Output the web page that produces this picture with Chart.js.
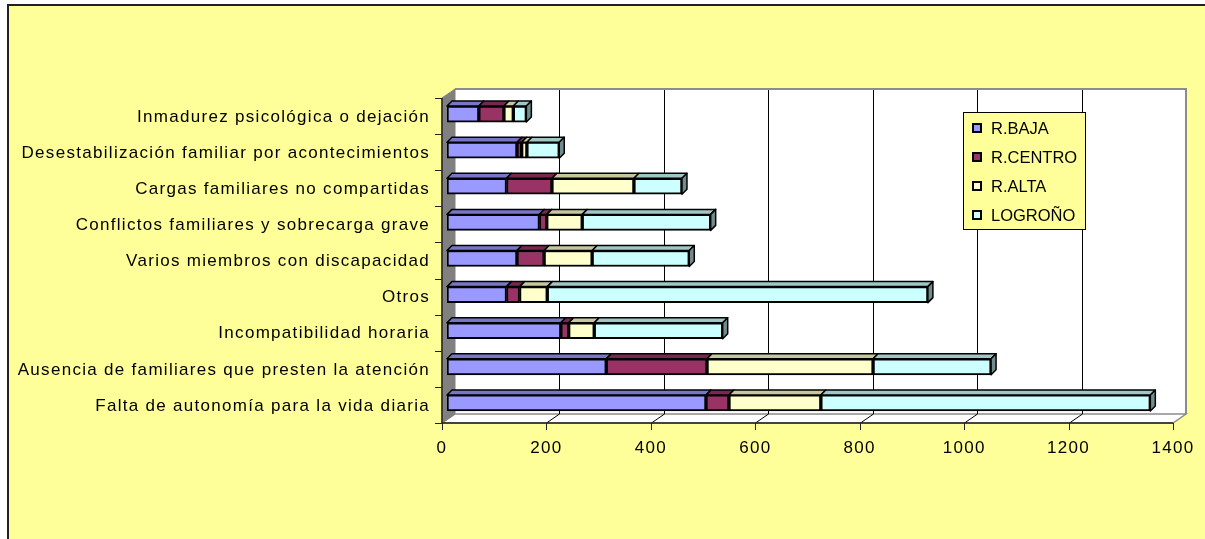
<!DOCTYPE html>
<html>
<head>
<meta charset="utf-8">
<script src="https://cdn.jsdelivr.net/npm/chart.js@4"></script>
<style>
  html, body { margin: 0; padding: 0; background: #ffffff; }
  #wrap { width: 1205px; height: 539px; }
</style>
</head>
<body>
<div id="wrap"><canvas id="myChart" width="1205" height="539"></canvas></div>
<script>
const categories = [
    'Inmadurez psicológica o dejación',
    'Desestabilización familiar por acontecimientos',
    'Cargas familiares no compartidas',
    'Conflictos familiares y sobrecarga grave',
    'Varios miembros con discapacidad',
    'Otros',
    'Incompatibilidad horaria',
    'Ausencia de familiares que presten la atención',
    'Falta de autonomía para la vida diaria'
];
const seriesNames = ['R.BAJA', 'R.CENTRO', 'R.ALTA', 'LOGROÑO'];
const rBaja   = [61, 134, 114, 177, 134, 114, 218, 305, 496];
const rCentro = [48,   9,  87,  14,  52,  25,  15, 193,  44];
const rAlta   = [18,  10, 157,  68,  92,  53,  49, 318, 176];
const logrono = [25,  62,  92, 246, 186, 729, 246, 226, 631];
const xTicks = [0, 200, 400, 600, 800, 1000, 1200, 1400];

const colors = ['#9999FF', '#993366', '#FFFFCC', '#CCFFFF'];
const FONT = '"Liberation Sans", Arial, sans-serif';

// front / back plane offsets from the bar plane
const FRONT = { dx: -5, dy: 2 };
const BACK = { dx: 8, dy: -7 };
const BAR_DX = 5, BAR_DY = 5;

function shade(hex, f) {
    const n = parseInt(hex.slice(1), 16);
    const r = Math.round(((n >> 16) & 255) * f);
    const g = Math.round(((n >> 8) & 255) * f);
    const b = Math.round((n & 255) * f);
    return `rgb(${r},${g},${b})`;
}

function poly(ctx, pts, fill, stroke, lw) {
    ctx.beginPath();
    ctx.moveTo(pts[0][0], pts[0][1]);
    for (let i = 1; i < pts.length; i++) ctx.lineTo(pts[i][0], pts[i][1]);
    ctx.closePath();
    if (fill) { ctx.fillStyle = fill; ctx.fill(); }
    if (stroke) { ctx.strokeStyle = stroke; ctx.lineWidth = lw; ctx.stroke(); }
}

const excel3d = {
    id: 'excel3d',
    beforeDraw(chart) {
        const ctx = chart.ctx;
        ctx.save();
        ctx.fillStyle = '#ffffff';
        ctx.fillRect(0, 0, chart.width, chart.height);
        ctx.fillStyle = '#FFFF99';
        ctx.fillRect(8, 5, chart.width, chart.height);
        ctx.strokeStyle = '#222';
        ctx.lineWidth = 2;
        ctx.strokeRect(8, 5, chart.width + 10, chart.height + 10);
        ctx.restore();
        // wider spacing of the axis texts, as in the original
        ctx.letterSpacing = '1.3px';
    },
    beforeDatasetsDraw(chart) {
        const ctx = chart.ctx;
        const a = chart.chartArea;
        const xs = chart.scales.x;
        const x0 = xs.getPixelForValue(0), x1 = xs.getPixelForValue(1400);
        const bT = a.top + BACK.dy, bB = a.bottom + BACK.dy;
        const fT = a.top + FRONT.dy, fB = a.bottom + FRONT.dy;
        ctx.save();
        // back wall
        ctx.fillStyle = '#ffffff';
        ctx.fillRect(x0 + BACK.dx, bT, x1 - x0, bB - bT);
        // floor
        poly(ctx, [[x0 + FRONT.dx, fB], [x0 + BACK.dx, bB], [x1 + BACK.dx, bB], [x1 + FRONT.dx, fB]], '#ffffff', '#8c8c8c', 1.5);
        // grid on the back wall and floor
        ctx.strokeStyle = '#000';
        ctx.lineWidth = 1;
        xTicks.forEach(v => {
            if (v === 0 || v === 1400) return;
            const px = Math.round(xs.getPixelForValue(v)) + 0.5;
            ctx.beginPath();
            ctx.moveTo(px + BACK.dx, bT);
            ctx.lineTo(px + BACK.dx, bB);
            ctx.lineTo(px + FRONT.dx, fB);
            ctx.stroke();
        });
        // back wall border
        ctx.strokeStyle = '#8c8c8c';
        ctx.lineWidth = 2;
        ctx.beginPath();
        ctx.moveTo(x0 + BACK.dx, bT);
        ctx.lineTo(x1 + BACK.dx, bT);
        ctx.lineTo(x1 + BACK.dx, bB);
        ctx.stroke();
        // left wall
        poly(ctx, [[x0 + FRONT.dx, fT], [x0 + BACK.dx, bT], [x0 + BACK.dx, bB], [x0 + FRONT.dx, fB]], '#808080', '#808080', 1);
        // front axes
        ctx.strokeStyle = '#222';
        ctx.lineWidth = 1.5;
        ctx.beginPath();
        ctx.moveTo(x0 + FRONT.dx, fT);
        ctx.lineTo(x0 + FRONT.dx, fB);
        ctx.lineTo(x1 + FRONT.dx, fB);
        ctx.stroke();
        ctx.lineWidth = 1;
        xTicks.forEach(v => {
            const px = Math.round(xs.getPixelForValue(v) + FRONT.dx) + 0.5;
            ctx.beginPath();
            ctx.moveTo(px, fB);
            ctx.lineTo(px, fB + 7);
            ctx.stroke();
        });
        const band = (a.bottom - a.top) / categories.length;
        for (let i = 0; i <= categories.length; i++) {
            const py = Math.round(a.top + i * band + FRONT.dy) + 0.5;
            ctx.beginPath();
            ctx.moveTo(x0 + FRONT.dx, py);
            ctx.lineTo(x0 + FRONT.dx - 7, py);
            ctx.stroke();
        }
        ctx.restore();
    },
    afterDatasetsDraw(chart) {
        const ctx = chart.ctx;
        const n = chart.data.datasets.length;
        ctx.save();
        ctx.lineJoin = 'round';
        chart.data.datasets.forEach((ds, i) => {
            const meta = chart.getDatasetMeta(i);
            meta.data.forEach(el => {
                const p = el.getProps(['x', 'y', 'base', 'height'], true);
                const top = p.y - p.height / 2;
                poly(ctx, [[p.base, top], [p.x, top], [p.x + BAR_DX, top - BAR_DY], [p.base + BAR_DX, top - BAR_DY]],
                    shade(ds.backgroundColor, 0.78), '#000', 1.5);
                if (i === n - 1) {
                    poly(ctx, [[p.x, top], [p.x + BAR_DX, top - BAR_DY], [p.x + BAR_DX, top - BAR_DY + p.height], [p.x, top + p.height]],
                        shade(ds.backgroundColor, 0.55), '#000', 1.5);
                }
            });
        });
        ctx.restore();
    },
    afterDraw(chart) {
        // legend box inside the plot
        const ctx = chart.ctx;
        ctx.save();
        ctx.letterSpacing = '0px';
        ctx.fillStyle = '#FFFF99';
        ctx.fillRect(963, 112, 122, 117);
        ctx.strokeStyle = '#000';
        ctx.lineWidth = 1;
        ctx.strokeRect(963.5, 112.5, 122, 117);
        ctx.font = '16.5px ' + FONT;
        ctx.textBaseline = 'middle';
        chart.data.datasets.forEach((ds, i) => {
            const cy = 128 + i * 29;
            ctx.fillStyle = ds.backgroundColor;
            ctx.fillRect(973, cy - 4, 8, 8);
            ctx.lineWidth = 2;
            ctx.strokeRect(973, cy - 4, 8, 8);
            ctx.fillStyle = '#000';
            ctx.fillText(ds.label, 991, cy + 1);
        });
        ctx.restore();
    }
};

const datasets = [rBaja, rCentro, rAlta, logrono].map((vals, i) => ({
    label: seriesNames[i],
    data: vals,
    backgroundColor: colors[i],
    borderColor: '#000',
    borderWidth: 2,
    borderSkipped: false,
    barThickness: 16
}));

new Chart(document.getElementById('myChart').getContext('2d'), {
    type: 'bar',
    data: { labels: categories, datasets: datasets },
    plugins: [excel3d],
    options: {
        indexAxis: 'y',
        responsive: false,
        animation: false,
        layout: { padding: { top: 96, right: 27, bottom: 78, left: 0 } },
        plugins: {
            legend: { display: false },
            tooltip: { enabled: false }
        },
        scales: {
            x: {
                stacked: true,
                min: 0,
                max: 1400,
                afterBuildTicks: s => { s.ticks = xTicks.map(v => ({ value: v })); },
                afterFit: s => {
                    s.height = 40;
                    s.paddingLeft = 0;
                    s.paddingRight = 0;
                },
                grid: { display: false, drawTicks: false },
                border: { display: false },
                ticks: {
                    color: '#000',
                    font: { family: FONT, size: 17 },
                    padding: 17,
                    labelOffset: FRONT.dx,
                    maxRotation: 0,
                    callback: v => String(v)
                }
            },
            y: {
                stacked: true,
                afterFit: s => { s.width = 447; },
                grid: { display: false, drawTicks: false },
                border: { display: false },
                ticks: {
                    color: '#000',
                    font: { family: FONT, size: 17 },
                    padding: 17,
                    labelOffset: FRONT.dy + 1,
                    autoSkip: false
                }
            }
        }
    }
});
</script>
</body>
</html>
